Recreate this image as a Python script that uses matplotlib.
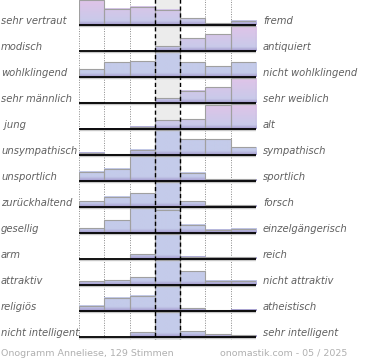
import numpy as np
import matplotlib
matplotlib.use("Agg")
import matplotlib.pyplot as plt
from matplotlib.patches import Rectangle

left_labels = ["sehr vertraut", "modisch", "wohlklingend", "sehr männlich", " jung",
               "unsympathisch", "unsportlich", "zurückhaltend", "gesellig", "arm",
               "attraktiv", "religiös", "nicht intelligent"]
right_labels = ["fremd", "antiquiert", "nicht wohlklingend", "sehr weiblich", "alt",
                "sympathisch", "sportlich", "forsch", "einzelgängerisch", "reich",
                "nicht attraktiv", "atheistisch", "sehr intelligent"]

# relative bar heights per row (7 bins, left pole -> right pole)
r_vertraut    = [1.00, 0.65, 0.73, 0.62, 0.28, 0.07, 0.18]
r_modisch     = [0.00, 0.02, 0.02, 0.20, 0.52, 0.67, 1.00]
r_wohlkl      = [0.32, 0.60, 0.64, 1.00, 0.59, 0.43, 0.60]
r_maennlich   = [0.04, 0.00, 0.00, 0.20, 0.49, 0.63, 1.00]
r_jung        = [0.02, 0.02, 0.10, 0.36, 0.40, 0.95, 1.00]
r_unsymp      = [0.10, 0.03, 0.22, 1.00, 0.63, 0.63, 0.31]
r_unsport     = [0.37, 0.50, 1.00, 1.00, 0.33, 0.07, 0.07]
r_zurueck     = [0.24, 0.42, 0.56, 1.00, 0.24, 0.08, 0.08]
r_gesellig    = [0.20, 0.52, 1.00, 0.93, 0.33, 0.13, 0.17]
r_arm         = [0.00, 0.00, 0.19, 1.00, 0.09, 0.08, 0.08]
r_attraktiv   = [0.16, 0.20, 0.31, 1.00, 0.56, 0.17, 0.17]
r_religioes   = [0.21, 0.53, 0.61, 1.00, 0.11, 0.03, 0.06]
r_intelligent = [0.00, 0.00, 0.20, 1.00, 0.24, 0.12, 0.08]

rows = [r_vertraut, r_modisch, r_wohlkl, r_maennlich, r_jung, r_unsymp, r_unsport,
        r_zurueck, r_gesellig, r_arm, r_attraktiv, r_religioes, r_intelligent]

# rows drawn with a lilac tint (style)
tinted_rows = {0, 1, 3, 4}

footer_left = "Onogramm Anneliese, 129 Stimmen"
footer_right = "onomastik.com - 05 / 2025"

W, H = 370, 360
fig = plt.figure(figsize=(W / 100, H / 100), dpi=100)
nrows = len(rows)
ybot = nrows + 0.1
ax_left, ax_w = 79 / W, 177 / W
pix_bottom = 25 + 26 * (nrows - 1) + 0.1 * 26
ax = fig.add_axes([ax_left, (H - pix_bottom) / H, ax_w, (pix_bottom + 1) / H])
ax.set_axis_off()

# center column background
ax.add_patch(Rectangle((3, 0), 1, ybot, facecolor="#ececec", edgecolor="none", zorder=0))

# dotted grid lines
for xv in [0, 1, 2, 5, 6, 7]:
    ax.plot([xv, xv], [0, ybot], color="#888888", lw=0.7, ls=(0, (1, 1.5)), zorder=1)

blue = np.array([196, 203, 234]) / 255
pink = np.array([222, 196, 232]) / 255
purple = np.array([150, 132, 192]) / 255

def bar_image(h, tint, n=60):
    ys = np.linspace(h, 0, n)  # top to bottom
    cols = []
    for y in ys:
        c = blue.copy()
        if tint:
            c = blue + (pink - blue) * min(1.0, y / 0.9)
        if y < 0.16:
            f = (1 - y / 0.16) * 0.75
            c = c + (purple - c) * f
        cols.append(c)
    arr = np.array(cols)[:, None, :]
    return np.repeat(arr, 2, axis=1)

for i, vals in enumerate(rows):
    base = i + 1
    for j, v in enumerate(vals):
        if v <= 0:
            continue
        h = v * 0.96
        img = bar_image(h, i in tinted_rows)
        ax.imshow(img, extent=(j, j + 1, base, base - h), origin="upper",
                  aspect="auto", interpolation="bilinear", zorder=2)
        ax.add_patch(Rectangle((j, base - h), 1, h, facecolor="none",
                               edgecolor="#a0a0a0", lw=0.8, zorder=3))
    # shadow + baseline
    ax.plot([0, 7], [base + 0.05, base + 0.05], color="#c8c8c8", lw=1.0, zorder=3,
            solid_capstyle="butt")
    ax.plot([0, 7], [base, base], color="black", lw=1.3, zorder=4, solid_capstyle="butt")

# dashed center lines
for xv in [3, 4]:
    ax.plot([xv, xv], [0, ybot], color="black", lw=1.0, ls=(0, (3, 2)), zorder=5)

ax.set_xlim(0, 7)
ax.set_ylim(ybot, 0)

lab_kw = dict(fontsize=7.2, style="italic", color="#606060", family="DejaVu Sans")
for i in range(nrows):
    ypix = 25 + 26 * i - 1
    fy = (H - ypix) / H
    fig.text(1 / W, fy, left_labels[i], ha="left", va="baseline", **lab_kw)
    fig.text(263 / W, fy, right_labels[i], ha="left", va="baseline", **lab_kw)

foot_kw = dict(fontsize=6.8, color="#b0b0b0", family="DejaVu Sans")
fig.text(1 / W, (H - 356) / H, footer_left, ha="left", va="baseline", **foot_kw)
fig.text(347 / W, (H - 356) / H, footer_right, ha="right", va="baseline", **foot_kw)

fig.savefig("out.png", dpi=100)
